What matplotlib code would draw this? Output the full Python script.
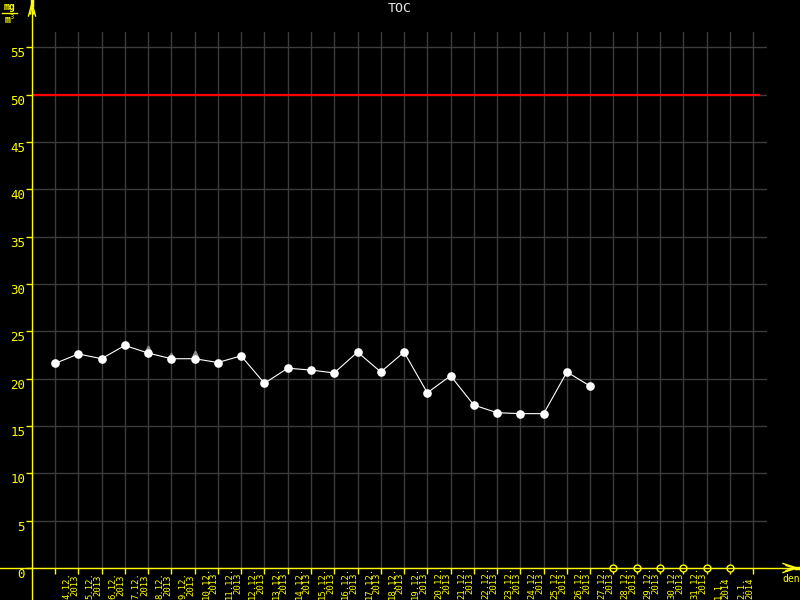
import matplotlib
matplotlib.use("Agg")
import matplotlib.pyplot as plt
from matplotlib.lines import Line2D
import numpy as np

# measurements of TOC, one per day (nan = no value yet)
dates = ["4.12.", "5.12.", "6.12.", "7.12.", "8.12.", "9.12.", "10.12.", "11.12.",
         "12.12.", "13.12.", "14.12.", "15.12.", "16.12.", "17.12.", "18.12.", "19.12.",
         "20.12.", "21.12.", "22.12.", "23.12.", "24.12.", "25.12.", "26.12.", "27.12.",
         "28.12.", "29.12.", "30.12.", "31.12.", "1.1.", "2.1."]
years = ["2013"] * 28 + ["2014"] * 2
toc = [21.6, 22.6, 22.1, 23.5, 22.7, 22.1, 22.1, 21.7, 22.4, 19.5, 21.1, 20.9,
       20.6, 22.8, 20.7, 22.8, 18.5, 20.3, 17.2, 16.4, 16.3, 16.3, 20.7, 19.2,
       np.nan, np.nan, np.nan, np.nan, np.nan, np.nan]
# small grey markers above some of the points
peak_idx = [4, 5, 6]
peak_val = [23.2, 22.5, 22.7]
limit = 50
yticks = list(range(0, 60, 5))

YEL = "#ffff00"
GRID = "#3c3c3c"
W, H = 800, 600

fig = plt.figure(figsize=(8, 6), dpi=100, facecolor="black")
# plot area in pixels: x 32..767, y 32..568
ax = fig.add_axes([32 / W, (H - 568) / H, (767 - 32) / W, (568 - 32) / H])
ax.set_facecolor("black")

step = 23.27  # px per day
xmin = (32 - 55) / step
xmax = (767 - 55) / step
ax.set_xlim(xmin, xmax)
ax.set_ylim(0, 56.6)

for s in ax.spines.values():
    s.set_visible(False)

ax.set_xticks(np.arange(0, 31))
ax.set_yticks(yticks)
ax.set_xticklabels([])
ax.set_yticklabels([str(v) for v in yticks], fontfamily="DejaVu Sans Mono",
                   fontsize=9, color=YEL, va="top")
ax.tick_params(axis="x", length=4, width=1, color=YEL, direction="out")
ax.tick_params(axis="y", length=4, width=1, color=YEL, direction="out", pad=1)
for t in ax.get_yticklabels():
    t.set_y(t.get_position()[1])
ax.grid(True, color=GRID, linewidth=1)
ax.set_axisbelow(True)

# limit line
ax.axhline(limit, xmin=0, xmax=(759 - 32) / (767 - 32), color="#ff0000", linewidth=1.6, zorder=2)

x = np.arange(len(toc))
vals = np.array(toc)
ok = ~np.isnan(vals)
ax.plot(x[ok], vals[ok], color="white", linewidth=0.8, marker="o", markersize=5.2,
        markerfacecolor="white", markeredgecolor="white", zorder=4)
ax.plot(peak_idx, peak_val, linestyle="none", marker="^", markersize=3.5,
        color="#8a8a8a", zorder=3)
# missing days drawn as open circles on the axis
ax.plot(x[~ok], np.zeros((~ok).sum()), linestyle="none", marker="o", markersize=5,
        markerfacecolor="black", markeredgecolor=YEL, markeredgewidth=1, clip_on=False, zorder=5)

# date labels between grid lines
ybot = -(599 - 568) / 9.47
for i, (d, yr) in enumerate(zip(dates, years)):
    ax.text(i + 0.67, ybot, d + "\n" + yr, rotation=90, ha="center", va="bottom",
            fontfamily="DejaVu Sans Mono", fontsize=6.4, color=YEL, linespacing=0.85,
            clip_on=False)


def px(xp, yp):
    return xp / W, 1 - yp / H


def fline(pts, lw=1.0):
    xs, ys = zip(*[px(a, b) for a, b in pts])
    fig.add_artist(Line2D(xs, ys, color=YEL, linewidth=lw, transform=fig.transFigure))


# axes lines with arrows
fline([(32, 2), (32, 600)])
fline([(0, 568), (796, 568)])
fline([(32, 0), (32, 5)], lw=2.5)
fline([(32, 3), (28.5, 16)])
fline([(32, 3), (35.5, 16)])
fline([(32, 6), (30.5, 14)])
fline([(32, 6), (33.5, 14)])
fline([(796, 568), (800, 568)], lw=2.5)
fline([(797, 568), (783, 563.5)])
fline([(797, 568), (783, 572.5)])
fline([(794, 568), (786, 565.5)])
fline([(794, 568), (786, 570.5)])

# unit labels
fig.text(*px(791, 579), "den", ha="center", va="center", fontfamily="DejaVu Sans Mono",
         fontsize=7, color=YEL)
fig.text(*px(9, 7), "mg", ha="center", va="center", fontfamily="DejaVu Sans Mono",
         fontsize=7, color=YEL, fontweight="bold")
fline([(2, 13), (17, 13)])
fig.text(*px(10, 19), "m$^3$", ha="center", va="center", fontfamily="DejaVu Sans Mono",
         fontsize=7, color=YEL, fontweight="bold")

fig.text(0.5, 1 - 8 / H, "TOC", ha="center", va="center", fontfamily="DejaVu Sans Mono",
         fontsize=9.5, color="#e8e8e8")

fig.savefig("out.png", dpi=100, facecolor="black")
